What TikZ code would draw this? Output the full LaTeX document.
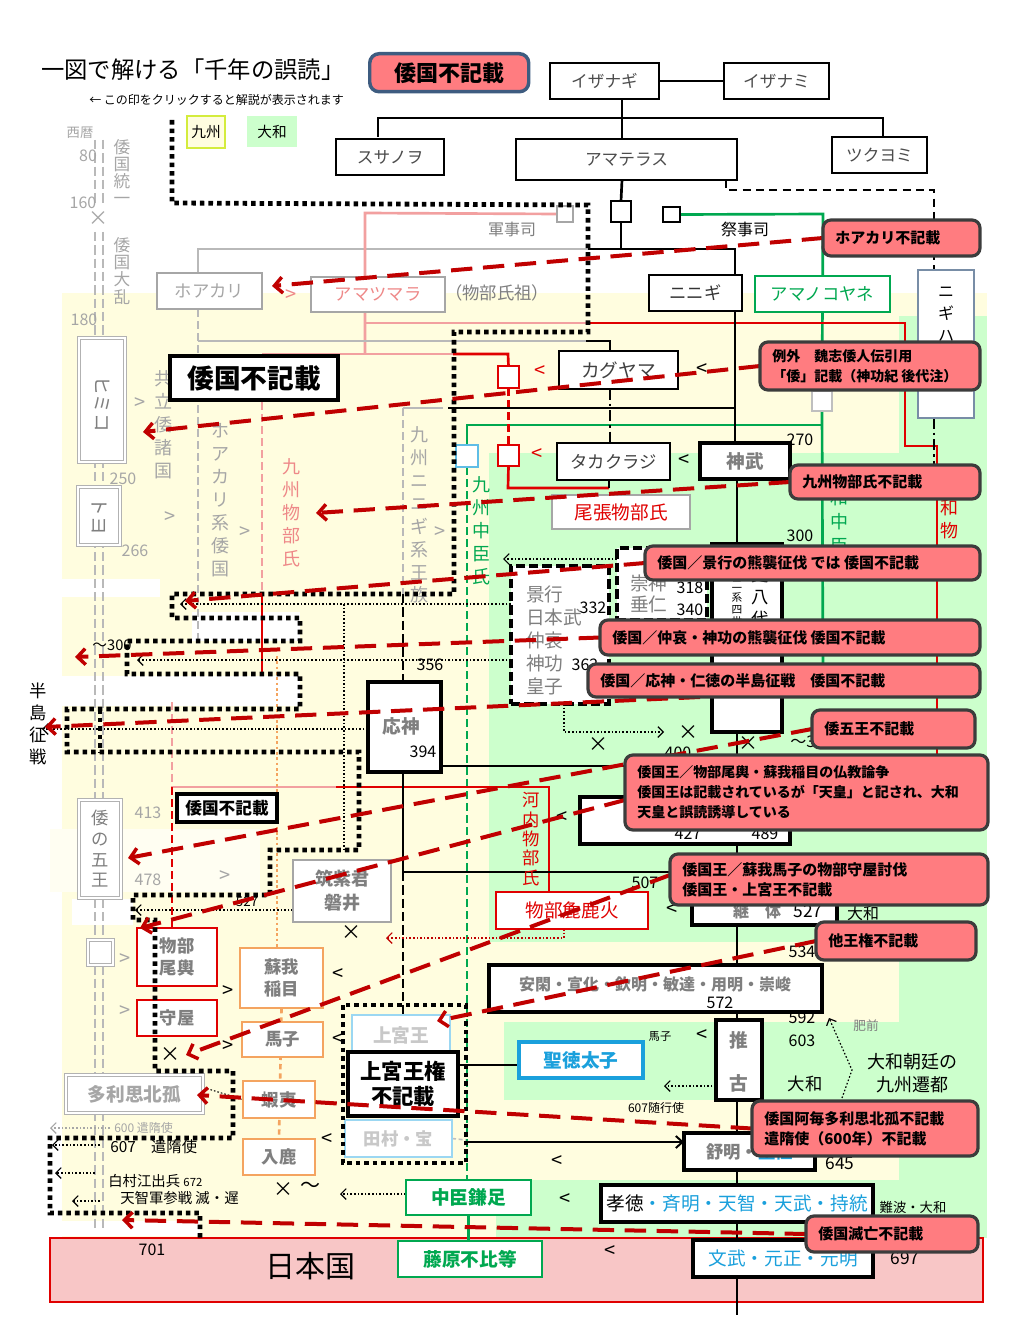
\documentclass[tikz,border=0pt]{standalone}
\usepackage{fontspec}
\setmainfont{Noto Sans CJK JP}
\usetikzlibrary{arrows.meta}
\pgfdeclarelayer{bg}
\pgfdeclarelayer{lines}
\pgfdeclarelayer{arr}
\pgfdeclarelayer{top}
\pgfsetlayers{bg,lines,main,arr,top}
\definecolor{bgy}{HTML}{FFFDDF}
\definecolor{bgg}{HTML}{CCFFCC}
\definecolor{sal}{HTML}{FF7C80}
\definecolor{cbord}{HTML}{3C3C3C}
\definecolor{dred}{HTML}{C00000}
\definecolor{pinkl}{HTML}{F2A0A0}
\definecolor{pinkt}{HTML}{EE8888}
\definecolor{gtext}{HTML}{7F7F7F}
\definecolor{ltext}{HTML}{A6A6A6}
\definecolor{vltext}{HTML}{C8C8C8}
\definecolor{grn}{HTML}{00A850}
\definecolor{blu}{HTML}{1AA0DC}
\definecolor{lblu}{HTML}{9BD7F2}
\definecolor{orn}{HTML}{F4A460}
\definecolor{rd}{HTML}{E00000}
\definecolor{jpk}{HTML}{F8C6C6}
\definecolor{navy}{HTML}{3E5C80}
\definecolor{legy}{HTML}{D4EC3C}
\newcommand{\fz}[2]{\fontsize{#1}{#2}\selectfont}
\newcommand{\bx}[7]{\node[#1,anchor=north west,minimum width=#5*0.75pt,minimum height=#6*0.75pt] (#2) at (#3,#4) {#7};}
\newcommand{\co}[7]{\node[callout,anchor=north west,minimum width=#4*0.75pt,minimum height=#5*0.75pt] (#1) at (#2,#3) {};
  \node[ctext,anchor=west,font=\fz{#6}{15}\bfseries] at ([xshift=9pt]#1.west) {#7};}
\tikzset{
  box/.style={draw=black,line width=0.8pt,fill=white,inner sep=0pt,outer sep=0pt,font=\fz{12}{14},text=black!70},
  tbox/.style={box,line width=2.6pt},
  gbox/.style={box,draw=gray!70},
  dbl/.style={draw=gray!60,double=white,double distance=1.6pt,line width=0.9pt,fill=white,inner sep=0pt,outer sep=0pt},
  obox/.style={box,draw=orn,line width=2pt,font=\fz{13}{17}\bfseries,text=gtext,align=center},
  rbox/.style={box,draw=rd,line width=2pt,font=\fz{13}{17}\bfseries,text=gtext,align=center},
  callout/.style={draw=cbord,line width=2.4pt,fill=sal,rounded corners=6pt,inner sep=0pt,outer sep=0pt},
  ctext/.style={inner sep=0pt,align=left,text=black},
  lb/.style={inner sep=0pt,font=\fz{12}{14}},
  sym/.style={inner sep=0pt,font=\fz{15}{16}},
  vt/.style={inner sep=0pt,align=center,font=\fz{13.5}{17.2}},
  ra/.style={dred,line width=3pt,dash pattern=on 16pt off 8pt,-{Straight Barb[length=6pt,width=12pt,line width=2.6pt]}},
  bdot/.style={black,line width=3.6pt,dash pattern=on 3.4pt off 3pt},
  tdot/.style={black,line width=0.9pt,dash pattern=on 1.2pt off 1.5pt,-{Straight Barb[length=4pt,width=8pt,line width=0.9pt]}},
  tl/.style={black,line width=2pt},
}
\begin{document}
\begin{tikzpicture}[x=0.75pt,y=-0.75pt]
\useasboundingbox (0,0) rectangle (1008,1344);
\begin{pgfonlayer}{bg}
\fill[white] (0,0) rectangle (1008,1344);
\fill[bgy] (62,293) rectangle (987,1238);
\fill[bgg] (899,316) rectangle (987,1238);
\fill[bgg] (489,453) rectangle (899,942);
\fill[bgg] (504,1022) rectangle (899,1100);
\fill[bgg] (496,1180) rectangle (899,1238);
\fill[white] (62,579) rectangle (160,597);
\fill[white] (192,612) rectangle (300,641);
\fill[white] (62,676) rectangle (300,706);
\fill[white!60!bgy] (50,829) rectangle (260,892);
\fill[white] (72,899) rectangle (133,925);
\fill[white] (50,1221) rectangle (200,1236);
\fill[jpk] (50,1238) rectangle (983,1302);
\draw[rd,line width=1.6pt] (50,1238) rectangle (983,1302);
\end{pgfonlayer}

% ---------- title and legend
\node[anchor=west,inner sep=0,font=\fz{17.5}{20}] (title) at (41,70) {一図で解ける「千年の誤読」};
\node[anchor=west,inner sep=0,font=\fz{9}{11}] (sub) at (89,100) {← この印をクリックすると解説が表示されます};
\node[draw=navy,line width=2.6pt,fill=sal,rounded corners=7pt,anchor=north west,minimum width=119.25pt,minimum height=28.5pt,inner sep=0,font=\fz{16.5}{18}\bfseries] (legw) at (368,52) {倭国不記載};
\bx{box,fill=bgy,draw=legy,line width=2pt,text=black,font=\fz{11}{13}}{legk}{187}{116}{38}{32}{九州}
\bx{box,fill=bgg,draw=none,text=black,font=\fz{11}{13}}{legyam}{247}{116}{50}{31}{大和}

% ---------- top tree
\bx{box,font=\fz{12.5}{14}}{izanagi}{550}{63}{109}{36}{イザナギ}
\bx{box,font=\fz{12.5}{14}}{izanami}{724}{63}{105}{36}{イザナミ}
\bx{box,font=\fz{12.5}{14}}{susanoo}{336}{139}{108}{36}{スサノヲ}
\bx{box,font=\fz{12.5}{14}}{amaterasu}{516}{139}{221}{41}{アマテラス}
\bx{box,font=\fz{12.5}{14}}{tsukuyomi}{832}{137}{95}{36}{ツクヨミ}
\bx{box}{sqa}{611}{201}{20}{21}{}
\bx{box}{sqb}{663}{207}{17}{15}{}
\bx{box,draw=gray!70}{gsq}{557}{206}{16}{16}{}
\node[lb,text=gtext] (gunji) at (512,229) {軍事司};
\node[lb] (saiji) at (745,229) {祭事司};
\bx{gbox,text=ltext,font=\fz{13}{15}}{hoakari}{157}{273}{105}{36}{ホアカリ}
\bx{gbox,text=pinkt,font=\fz{13}{15}}{amatsumara}{311}{277}{134}{35}{アマツマラ}
\node[lb,text=gtext,font=\fz{13}{15}] (sozo) at (497,293) {（物部氏祖）};
\node[sym,text=pinkt] at (291,296) {>};
\bx{box,text=black!80,font=\fz{13}{15}}{ninigi}{649}{275}{93}{36}{ニニギ}
\bx{box,draw=grn,text=grn,font=\fz{13}{15}}{amanokoyane}{755}{276}{135}{36}{アマノコヤネ}
\bx{box,draw=navy!70,align=center,text=black,font=\fz{12}{16.5}}{nigihayahi}{918}{270}{56}{148}{}
\node[inner sep=0,align=center,text=black,font=\fz{12}{16.5}] at (946,314) {ニ\\ギ\\ハ};

% ---------- left timeline
\node[lb,text=ltext,font=\fz{10}{12}] at (80,133) {西暦};
\node[lb,text=ltext] at (88,156) {80};
\node[lb,text=ltext] at (83,203) {160};
\node[lb,text=ltext] at (84,320) {180};
\node[lb,text=ltext] at (123,479) {250};
\node[lb,text=ltext] at (135,551) {266};
\node[lb,font=\fz{11}{13}] at (112,645) {～300};
\node[lb,text=ltext] at (148,813) {413};
\node[lb,text=ltext] at (148,880) {478};
\node[sym,text=ltext] at (98,219) {×};
\node[vt,text=ltext,font=\fz{12.5}{12.8}] at (122,172) {倭\\国\\統\\一};
\node[vt,text=ltext,font=\fz{12.5}{12.8}] at (122,271) {倭\\国\\大\\乱};
\bx{dbl}{himiko}{79}{338}{46}{124}{}
\node[rotate=-90,inner sep=0,text=gtext,font=\fz{14}{16}] at (102,404) {ヒミコ};
\bx{dbl}{toyo}{78}{487}{42}{58}{}
\node[rotate=-90,inner sep=0,text=gtext,font=\fz{14}{16}] at (toyo.center) {トヨ};
\bx{dbl,text=gtext,align=center,font=\fz{13}{15.5}}{goo}{79}{800}{42}{98}{倭\\の\\五\\王}
\bx{dbl}{sqd}{88}{940}{25}{25}{}
\bx{dbl,text=ltext,font=\fz{14}{16}\bfseries}{tarishi}{66}{1075}{137}{38}{多利思北孤}
\node[vt,text=ltext] at (163,425) {共\\立\\倭\\諸\\国};
\node[vt,text=ltext] at (220,500) {ホ\\ア\\カ\\リ\\系\\倭\\国};
\node[vt,text=pinkt] at (291,513) {九\\州\\物\\部\\氏};
\node[vt,text=ltext] at (419,515) {九\\州\\ニ\\ニ\\ギ\\系\\王\\族};
\node[vt,text=grn] at (481,531) {九\\州\\中\\臣\\氏};
\node[vt,text=rd,font=\fz{13}{14.5}] at (531,839) {河\\内\\物\\部\\氏};
\node[vt,text=grn,font=\fz{13.5}{18}] at (839,522) {和\\中\\臣};
\node[vt,text=rd] at (949,531) {和\\物\\部};
\node[vt,text=black,font=\fz{13}{16.7}] at (38,724) {半\\島\\征\\戦};

% ---------- main boxes
\bx{tbox,text=black,font=\fz{20}{22}\bfseries}{wktwo}{170}{356}{168}{44}{倭国不記載}
\bx{box,text=black!75,font=\fz{14}{16}}{kaguyama}{559}{351}{119}{38}{カグヤマ}
\bx{box,text=black!75,font=\fz{13}{15}}{takakuraji}{557}{443}{113}{37}{タカクラジ}
\bx{tbox,text=gtext,font=\fz{14}{16}\bfseries}{jimmu}{700}{443}{90}{36}{神武}
\bx{gbox,text=rd,font=\fz{14}{16}}{owari}{552}{495}{138}{34}{尾張物部氏}
\bx{box,draw=blu!70}{sqc}{456}{445}{22}{22}{}
\bx{box,draw=rd}{rsqa}{498}{366}{21}{22}{}
\bx{box,draw=rd}{rsqb}{498}{445}{21}{21}{}
\bx{box,draw=gray!50}{sqg}{812}{391}{20}{20}{}
\node[lb] at (800,440) {270};
\node[lb] at (800,536) {300};
\bx{box,line width=2.4pt,dash pattern=on 7pt off 3pt}{sujin}{617}{548}{90}{72}{}
\node[anchor=west,inner sep=0,align=left,text=gtext,font=\fz{14}{15.5}] at (630,594) {崇神\\垂仁};
\node[lb] at (690,588) {318};
\node[lb] at (690,610) {340};
\bx{box,line width=2.4pt,dash pattern=on 7pt off 3pt}{keiko}{511}{566}{98}{138}{}
\node[anchor=west,inner sep=0,align=left,text=gtext,font=\fz{14}{17.25}] at (526,640) {景行\\日本武\\仲哀\\神功\\皇子};
\node[lb] at (593,608) {332};
\node[lb] at (585,665) {362};
\bx{tbox}{ketsushi}{712}{544}{70}{188}{}
\node[vt,text=black,font=\fz{13}{16.5}] at (760,597) {史\\八\\代};
\node[inner sep=0,align=center,font=\fz{8}{9.2},text=black] at (737,604) {二\\系\\四\\世};
\bx{tbox}{ojin}{368}{682}{73}{90}{}
\node[lb,text=gtext,font=\fz{14}{16}\bfseries] at (401,726) {応神};
\node[lb] at (423,752) {394};
\node[lb] at (430,665) {356};
\bx{tbox}{nintoku}{580}{797}{210}{47}{}
\node[lb] at (688,834) {427};
\node[lb] at (765,834) {489};
\node[lb] at (678,753) {400};
\node[lb,anchor=west] at (790,742) {～3};
\node[lb] at (645,883) {507};
\bx{tbox}{keitai}{692}{895}{145}{30}{}
\node[lb,text=gtext,font=\fz{12}{14}\bfseries] at (757,911) {継　体};
\node[lb,font=\fz{13}{15}] at (808,911) {527};
\node[lb] at (863,913) {大和};
\node[lb] at (802,952) {534};
\bx{tbox}{ankan}{489}{965}{333}{47}{}
\node[lb,text=gtext,font=\fz{12}{14}\bfseries] at (655,984) {安閑・宣化・欽明・敏達・用明・崇峻};
\node[lb] at (720,1003) {572};
\bx{tbox}{suiko}{716}{1020}{46}{80}{}
\node[lb,text=gtext,font=\fz{14}{16}\bfseries] at (739,1040) {推};
\node[lb,text=gtext,font=\fz{14}{16}\bfseries] at (739,1083) {古};
\node[lb] at (802,1018) {592};
\node[lb] at (802,1041) {603};
\node[lb,font=\fz{13}{15}] at (805,1084) {大和};
\node[lb,font=\fz{9.5}{11},text=gtext] at (866,1026) {肥前};
\node[inner sep=0,align=center,font=\fz{13.5}{17}] (sento) at (912,1073) {大和朝廷の\\九州遷都};
\node[lb,font=\fz{8.5}{10}] at (660,1036) {馬子};
\bx{box,draw=blu,line width=2.4pt,text=blu,font=\fz{14}{16}\bfseries}{shotoku}{519}{1042}{124}{36}{聖徳太子}
\bx{box,draw=lblu,line width=2pt,text=vltext,font=\fz{14}{16}\bfseries}{joguo}{352}{1015}{98}{40}{上宮王}
\bx{box,draw=lblu,line width=2pt,text=vltext,font=\fz{13}{16}\bfseries}{tamura}{345}{1120}{107}{37}{田村・宝}
\bx{tbox,text=black,font=\fz{16}{19}\bfseries,align=center}{jogk}{348}{1052}{110}{64}{上宮王権\\不記載}
\node[lb,font=\fz{9}{11}] at (656,1108) {607随行使};
\bx{tbox,text=gtext,font=\fz{13}{15}\bfseries}{jomei}{684}{1133}{131}{37}{舒明・\textcolor{blu}{皇極}}
\node[lb,font=\fz{13}{15}] at (840,1163) {645};
\bx{tbox,text=black,font=\fz{14}{16}}{kotoku}{601}{1185}{272}{37}{孝徳\textcolor{blu}{・斉明・天智・天武・持統}}
\node[lb,font=\fz{10}{12}] at (913,1207) {難波・大和};
\bx{tbox,text=blu,font=\fz{14}{16}}{monmu}{693}{1240}{180}{37}{文武・元正・元明}
\node[lb,font=\fz{13}{15}] at (905,1258) {697};
\bx{box,draw=grn,text=grn,font=\fz{14}{16}\bfseries}{kamatari}{406}{1180}{125}{35}{中臣鎌足}
\bx{box,draw=grn,text=grn,font=\fz{14}{16}\bfseries}{fuhito}{398}{1241}{144}{36}{藤原不比等}
\bx{obox}{inamei}{240}{948}{83}{60}{蘇我\\稲目}
\bx{obox}{umako}{242}{1022}{81}{35}{馬子}
\bx{obox}{emishi}{243}{1081}{72}{37}{蝦夷}
\bx{obox}{iruka}{243}{1139}{72}{36}{入鹿}
\bx{rbox}{okoshi}{137}{928}{80}{58}{物部\\尾輿}
\bx{rbox}{moriya}{137}{1000}{80}{36}{守屋}
\bx{gbox,text=gtext,font=\fz{13.5}{18}\bfseries,align=center}{iwai}{293}{860}{98}{62}{筑紫君\\磐井}
\bx{box,draw=rd,line width=2pt,text=rd,font=\fz{14}{16}}{arakabi}{496}{892}{152}{37}{物部麁鹿火}
\bx{tbox,text=black,font=\fz{12.5}{14}\bfseries}{wkthree}{177}{794}{100}{28}{倭国不記載}
\node[lb,font=\fz{10}{12}] at (247,902) {527};
\node[lb,anchor=west,text=ltext,font=\fz{9}{11}] at (114,1128) {600 遣隋使};
\node[lb,anchor=west,font=\fz{11.5}{13}] at (110,1147) {607　遣隋使};
\node[lb,anchor=west,font=\fz{10.8}{13}] at (108,1181) {白村江出兵 \fz{8.5}{10}672};
\node[lb,anchor=west,font=\fz{10.8}{13}] at (120,1198) {天智軍参戦 滅・遅};
\node[lb] at (152,1250) {701};
\node[inner sep=0,font=\fz{22.5}{25}] (nihon) at (310,1266) {日本国};

% ---------- symbols
\foreach \p in {(140,404),(170,518),(245,533),(440,533),(225,877),(125,960),(125,1012)} \node[sym,text=ltext] at \p {>};
\foreach \p in {(228,992),(228,1047)} \node[sym] at \p {>};
\foreach \p in {(702,370),(684,461),(562,818),(672,910),(338,975),(338,1040),(327,1140),(702,1036),(557,1162),(565,1200),(610,1252)} \node[sym] at \p {<};
\foreach \p in {(540,372),(537,455)} \node[sym,text=rd] at \p {<};
\foreach \p in {(351,933),(170,1055),(283,1190),(598,745),(688,733),(748,744)} \node[sym] at \p {×};
\node[sym] at (310,1187) {～};

% ---------- connectors
\begin{pgfonlayer}{lines}
\draw[tl] (izanagi.east) -- (izanami.west);
\draw[tl] (622,99) -- (622,139);
\draw[tl] (378,137) -- (378,118) -- (883,118) -- (883,137);
\draw[tl] (622,180) -- (sqa.north);
\draw[tl] (sqa.south) -- (621,249);
\draw[black,line width=1.8pt,dash pattern=on 6pt off 4pt] (726,180) -- (726,190) -- (934,190) -- (934,270);
\draw[gray!55,line width=2pt] (hoakari.north -| 198,0) -- (198,249) -- (588,249);
\draw[tl] (588,249) -- (735,249) -- (735,275);
\draw[grn,line width=2pt] (sqb.east) -- (823,214) -- (sqg.north);
\draw[grn,line width=2pt] (sqg.south) -- (823,680);
\draw[grn,line width=2pt] (sqc.north) -- (467,425) -- (823,425);
\draw[grn,line width=2pt,dash pattern=on 6pt off 3pt] (sqc.south) -- (sqc.south |- kamatari.north);
\draw[grn,line width=2pt] (kamatari.south) -- (kamatari.south |- fuhito.north);
\draw[pinkl,line width=2pt] (365,354) -- (365,213) -- (gsq.west);
\draw[pinkl,line width=2pt] (365,323) -- (588,323);
\draw[rd,line width=2pt] (588,323) -- (905,323) -- (905,446) -- (937,446) -- (937,780);
\draw[pinkl,line width=2pt] (262,354) -- (453,354);
\draw[rd,line width=2pt] (453,354) -- (508,354) -- (rsqa.north);
\draw[rd,line width=2pt,dash pattern=on 6pt off 3pt] (rsqa.south) -- (rsqb.north);
\draw[rd,line width=2pt] (rsqb.south) -- (508,488) -- (609,488);
\draw[tl] (609,480) -- (609,488);
\draw[pinkl,line width=2pt,dash pattern=on 6pt off 3pt] (262,354) -- (262,594);
\draw[rd,line width=1.2pt] (262,594) -- (262,676);
\draw[pinkl,line width=2pt,dash pattern=on 6pt off 3pt] (172,702) -- (172,787);
\draw[pinkl,line width=2pt] (172,787) -- (336,787);
\draw[rd,line width=2pt] (336,787) -- (549,787) -- (arakabi.north -| 549,0);
\draw[rd,line width=2pt,dash pattern=on 6pt off 3pt] (172,787) -- (okoshi.north -| 172,0);
\draw[orn,line width=1.5pt,dash pattern=on 2pt off 2pt] (277,656) -- (277,948);
\draw[orn,line width=2pt,dash pattern=on 4pt off 3pt] (inamei.south) -- (iruka.north);
\draw[gray!55,line width=1.8pt,dash pattern=on 6pt off 3pt] (198,309) -- (198,643);
\draw[gray!55,line width=1.8pt] (198,341) -- (586,341);
\draw[tl] (586,341) -- (610,341) -- (610,351);
\draw[gray!55,line width=1.8pt] (443,408) -- (403,408);
\draw[gray!55,line width=1.8pt,dash pattern=on 6pt off 3pt] (403,408) -- (403,594);
\draw[tl] (448,408) -- (735,408);
\draw[black,line width=1.8pt,dash pattern=on 8pt off 3pt on 2pt off 3pt] (kaguyama.south -| 610,0) -- (610,443);
\draw[tl] (ninigi.south -| 735,0) -- (735,443);
\draw[black,line width=1.8pt,dash pattern=on 8pt off 3pt on 2pt off 3pt] (934,418) -- (934,465);
\draw[black,line width=2.2pt,dash pattern=on 7pt off 3pt] (403,594) -- (403,682);
\draw[tl] (403,772) -- (403,872) -- (737,872);
\draw[black,line width=2.2pt,dash pattern=on 7pt off 3pt] (403,872) -- (403,1052);
\draw[tl] (441,766) -- (930,766);
\draw[tl] (737,478) -- (737,1315);
\draw[tl] (458,1065) -- (shotoku.west |- 0,1065);
\draw[tl,-{Straight Barb[length=5pt,width=9pt,line width=1.5pt]}] (466,1142) -- (jomei.west |- 0,1142);
\draw[gray!50,line width=1.2pt,densely dashed] (tamura.east) -- (466,1140);
% timeline
\foreach \xx in {95,103} {
  \draw[gray!55,line width=2pt,dash pattern=on 7pt off 3pt] (\xx,140) -- (\xx,206);
  \draw[gray!55,line width=2pt,dash pattern=on 7pt off 3pt] (\xx,232) -- (\xx,1232);
}
% thin dotted arrows
\draw[tdot] (keiko.west |- 0,604) -- (180,604);
\draw[tdot] (keiko.west |- 0,660) -- (137,660);
\draw[tdot] (ojin.west |- 0,729) -- (42,729);
\draw[tdot] (sujin.west |- 0,559) -- (503,559);
\draw[tdot] (564,704) -- (564,732) -- (664,732);
\draw[tdot,dred] (564,929) -- (564,938) -- (386,938);
\draw[tdot] (iwai.west |- 0,910) -- (135,910);
\draw[tdot] (kamatari.west |- 0,1194) -- (340,1194);
\draw[tdot] (suiko.west |- 0,1086) -- (664,1086);
\draw[tdot] (842,1098) -- (852,1070) -- (829,1018);
\draw[tdot,ltext] (110,1128) -- (50,1128);
\draw[tdot] (100,1145) -- (52,1145);
\draw[tdot] (95,1173) -- (55,1173);
\draw[tdot] (100,1201) -- (72,1201);
\draw[black,line width=0.8pt,dash pattern=on 1.2pt off 1.5pt] (344,604) -- (344,850);
\draw[black,line width=0.8pt,dash pattern=on 1.2pt off 1.5pt] (emishi.west) -- (205,1088);
\end{pgfonlayer}

% ---------- dotted boundaries and red arrows
\begin{pgfonlayer}{arr}
\draw[bdot] (172,120) -- (172,203) -- (588,205) -- (588,332) -- (454,332) -- (454,594) -- (172,594) -- (172,618) -- (300,618) -- (300,641) -- (127,641) -- (127,674) -- (300,674) -- (300,709) -- (67,709) -- (67,752) -- (359,752) -- (359,850) -- (270,850) -- (270,895) -- (133,895) -- (133,920) -- (155,920) -- (155,1071) -- (233,1071) -- (233,1138) -- (50,1138) -- (50,1213) -- (200,1213) -- (200,1238);
\draw[bdot] (100,709) -- (100,752);
\draw[bdot] (343,1005) rectangle (466,1163);
\coordinate (ta) at (272,286);
\coordinate (tb) at (143,432);
\coordinate (tc) at (316,513);
\coordinate (td) at (185,601);
\coordinate (te) at (75,657);
\coordinate (tf) at (45,727);
\coordinate (sf) at (700,697);
\coordinate (tg) at (128,858);
\coordinate (th) at (140,928);
\coordinate (sh) at (625,800);
\coordinate (ti) at (186,1055);
\coordinate (si) at (670,875);
\coordinate (tj) at (437,1021);
\coordinate (tk) at (197,1095);
\coordinate (tm) at (122,1220);
\end{pgfonlayer}

% ---------- callouts
\begin{pgfonlayer}{top}
\co{ca}{823}{220}{157}{36}{11.25}{ホアカリ不記載}
\co{cb}{760}{342}{220}{48}{10.5}{例外　魏志倭人伝引用\\「倭」記載（神功紀 後代注）}
\co{cc}{790}{465}{190}{34}{11.25}{九州物部氏不記載}
\co{cd}{645}{546}{335}{34}{11.25}{倭国／景行の熊襲征伐 では 倭国不記載}
\co{ce}{600}{620}{380}{35}{11.25}{倭国／仲哀・神功の熊襲征伐 倭国不記載}
\co{cf}{588}{664}{392}{33}{11.25}{倭国／応神・仁徳の半島征戦　倭国不記載}
\co{cg}{812}{710}{163}{38}{11.25}{倭五王不記載}
\co{ch}{625}{755}{363}{75}{10.5}{倭国王／物部尾輿・蘇我稲目の仏教論争\\倭国王は記載されているが「天皇」と記され、大和\\天皇と誤読誘導している}
\co{ci}{670}{854}{318}{51}{11.25}{倭国王／蘇我馬子の物部守屋討伐\\倭国王・上宮王不記載}
\co{cj}{816}{922}{160}{38}{11.25}{他王権不記載}
\co{ck}{752}{1101}{226}{55}{11.25}{倭国阿毎多利思北孤不記載\\遣隋使（600年）不記載}
\co{cm}{806}{1216}{172}{36}{11.25}{倭国滅亡不記載}
\end{pgfonlayer}
\begin{pgfonlayer}{arr}
\draw[ra] (ca.west) -- (ta);
\draw[ra] (cb.west) -- (tb);
\draw[ra] (cc.west) -- (tc);
\draw[ra] (cd.west) -- (td);
\draw[ra] (ce.west) -- (te);
\draw[ra] (sf) -- (tf);
\draw[ra] (cg.west) -- (tg);
\draw[ra] (sh) -- (th);
\draw[ra] (si) -- (ti);
\draw[ra] (cj.west) -- (tj);
\draw[ra] (ck.west) -- (tk);
\draw[ra] (cm.west) -- (tm);
\end{pgfonlayer}
\end{tikzpicture}
\end{document}
